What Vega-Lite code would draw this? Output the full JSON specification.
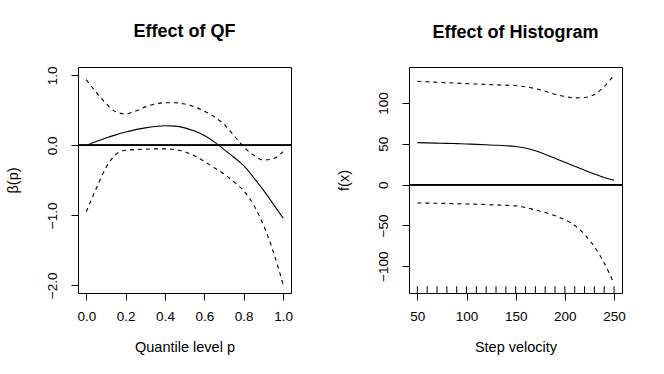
{
  "$schema": "https://vega.github.io/schema/vega-lite/v6.json",
  "background": "white",
  "padding": {"left": 4, "top": 22, "right": 5, "bottom": 5},
  "config": {
    "font": "Liberation Sans",
    "view": {"stroke": "black", "strokeWidth": 1},
    "axis": {
      "domain": false, "grid": false, "tickColor": "black", "tickSize": 7, "tickWidth": 1,
      "labelColor": "black", "labelFont": "Liberation Sans", "labelFontSize": 13.5,
      "titleFont": "Liberation Sans", "titleFontSize": 14.5, "titleFontWeight": "normal", "titleColor": "black",
      "labelPadding": 9, "titlePadding": 18, "labelFlush": false, "labelOverlap": false
    },
    "axisY": {"labelAngle": -90, "labelPadding": 12, "titlePadding": 25},
    "title": {"fontSize": 18, "fontWeight": "bold", "anchor": "middle", "color": "black", "font": "Liberation Sans", "offset": 25},
    "concat": {"spacing": 41}
  },
  "datasets": {
    "qf": [
      {"p": 0.00, "fit": 0.00, "hi": 0.94, "lo": -0.95},
      {"p": 0.05, "fit": 0.055, "hi": 0.76, "lo": -0.62},
      {"p": 0.10, "fit": 0.105, "hi": 0.60, "lo": -0.32},
      {"p": 0.15, "fit": 0.15, "hi": 0.48, "lo": -0.13},
      {"p": 0.20, "fit": 0.19, "hi": 0.45, "lo": -0.07},
      {"p": 0.25, "fit": 0.225, "hi": 0.49, "lo": -0.06},
      {"p": 0.30, "fit": 0.25, "hi": 0.55, "lo": -0.055},
      {"p": 0.35, "fit": 0.27, "hi": 0.59, "lo": -0.05},
      {"p": 0.40, "fit": 0.28, "hi": 0.61, "lo": -0.05},
      {"p": 0.45, "fit": 0.275, "hi": 0.61, "lo": -0.06},
      {"p": 0.50, "fit": 0.25, "hi": 0.59, "lo": -0.09},
      {"p": 0.55, "fit": 0.205, "hi": 0.55, "lo": -0.15},
      {"p": 0.60, "fit": 0.14, "hi": 0.49, "lo": -0.23},
      {"p": 0.65, "fit": 0.05, "hi": 0.41, "lo": -0.32},
      {"p": 0.70, "fit": -0.06, "hi": 0.30, "lo": -0.41},
      {"p": 0.75, "fit": -0.17, "hi": 0.14, "lo": -0.52},
      {"p": 0.80, "fit": -0.29, "hi": -0.02, "lo": -0.65},
      {"p": 0.85, "fit": -0.46, "hi": -0.14, "lo": -0.85},
      {"p": 0.90, "fit": -0.64, "hi": -0.21, "lo": -1.14},
      {"p": 0.95, "fit": -0.84, "hi": -0.19, "lo": -1.52},
      {"p": 1.00, "fit": -1.04, "hi": -0.09, "lo": -1.99}
    ],
    "hist": [
      {"v": 50, "fit": 51.5, "hi": 126.5, "lo": -22.4},
      {"v": 60, "fit": 51.2, "hi": 126.0, "lo": -22.6},
      {"v": 70, "fit": 50.9, "hi": 125.4, "lo": -22.8},
      {"v": 80, "fit": 50.6, "hi": 124.9, "lo": -23.0},
      {"v": 90, "fit": 50.2, "hi": 124.3, "lo": -23.3},
      {"v": 100, "fit": 49.8, "hi": 123.7, "lo": -23.7},
      {"v": 110, "fit": 49.3, "hi": 123.2, "lo": -24.0},
      {"v": 120, "fit": 48.8, "hi": 122.8, "lo": -24.4},
      {"v": 130, "fit": 48.3, "hi": 122.3, "lo": -24.9},
      {"v": 140, "fit": 47.7, "hi": 121.9, "lo": -25.4},
      {"v": 150, "fit": 46.8, "hi": 121.4, "lo": -26.0},
      {"v": 160, "fit": 44.8, "hi": 119.8, "lo": -28.0},
      {"v": 170, "fit": 41.5, "hi": 117.6, "lo": -31.0},
      {"v": 180, "fit": 37.0, "hi": 114.5, "lo": -34.0},
      {"v": 190, "fit": 32.2, "hi": 110.8, "lo": -38.0},
      {"v": 200, "fit": 27.4, "hi": 108.0, "lo": -43.0},
      {"v": 210, "fit": 22.5, "hi": 106.3, "lo": -50.0},
      {"v": 220, "fit": 17.6, "hi": 106.8, "lo": -61.0},
      {"v": 230, "fit": 13.0, "hi": 110.5, "lo": -76.0},
      {"v": 240, "fit": 8.8, "hi": 120.0, "lo": -96.0},
      {"v": 250, "fit": 5.3, "hi": 134.5, "lo": -121.0}
    ]
  },
  "hconcat": [
    {
      "title": "Effect of QF",
      "width": 213,
      "height": 226,
      "data": {"name": "qf"},
      "encoding": {
        "x": {"field": "p", "type": "quantitative",
          "scale": {"domain": [-0.042, 1.04], "nice": false, "zero": false},
          "axis": {"values": [0, 0.2, 0.4, 0.6, 0.8, 1.0], "format": ".1f", "title": "Quantile level p"}}
      },
      "layer": [
        {"mark": {"type": "rule", "color": "black", "strokeWidth": 0.7}, "encoding": {"y": {"datum": 0, "type": "quantitative"}, "x": null}},
        {"mark": {"type": "line", "color": "black", "strokeWidth": 1.1, "interpolate": "monotone"},
         "encoding": {"y": {"field": "fit", "type": "quantitative",
           "scale": {"domain": [-2.11, 1.12], "nice": false, "zero": false},
           "axis": {"values": [-2, -1.5, -1, -0.5, 0, 0.5, 1], "labelExpr": "datum.value == -0.5 || datum.value == -1.5 ? '' : format(datum.value, '.1f')", "title": "β(p)"}}}},
        {"mark": {"type": "line", "color": "black", "strokeWidth": 1.1, "strokeDash": [4, 4], "interpolate": "monotone"},
         "encoding": {"y": {"field": "hi", "type": "quantitative"}}},
        {"mark": {"type": "line", "color": "black", "strokeWidth": 1.1, "strokeDash": [4, 4], "interpolate": "monotone"},
         "encoding": {"y": {"field": "lo", "type": "quantitative"}}}
      ]
    },
    {
      "title": "Effect of Histogram",
      "width": 213,
      "height": 226,
      "data": {"name": "hist"},
      "encoding": {
        "x": {"field": "v", "type": "quantitative",
          "scale": {"domain": [41.5, 258.1], "nice": false, "zero": false},
          "axis": {"values": [50, 100, 150, 200, 250], "title": "Step velocity"}}
      },
      "layer": [
        {"mark": {"type": "rule", "color": "black", "strokeWidth": 0.7}, "encoding": {"y": {"datum": 0, "type": "quantitative"}, "x": null}},
        {"mark": {"type": "rule", "color": "black", "strokeWidth": 1},
         "encoding": {"y": {"datum": -132.7, "type": "quantitative"}, "y2": {"datum": -124.4}}},
        {"mark": {"type": "line", "color": "black", "strokeWidth": 1.1, "interpolate": "monotone"},
         "encoding": {"y": {"field": "fit", "type": "quantitative",
           "scale": {"domain": [-132.7, 144.1], "nice": false, "zero": false},
           "axis": {"values": [-100, -50, 0, 50, 100], "title": "f(x)"}}}},
        {"mark": {"type": "line", "color": "black", "strokeWidth": 1.1, "strokeDash": [4, 4], "interpolate": "monotone"},
         "encoding": {"y": {"field": "hi", "type": "quantitative"}}},
        {"mark": {"type": "line", "color": "black", "strokeWidth": 1.1, "strokeDash": [4, 4], "interpolate": "monotone"},
         "encoding": {"y": {"field": "lo", "type": "quantitative"}}}
      ]
    }
  ]
}
